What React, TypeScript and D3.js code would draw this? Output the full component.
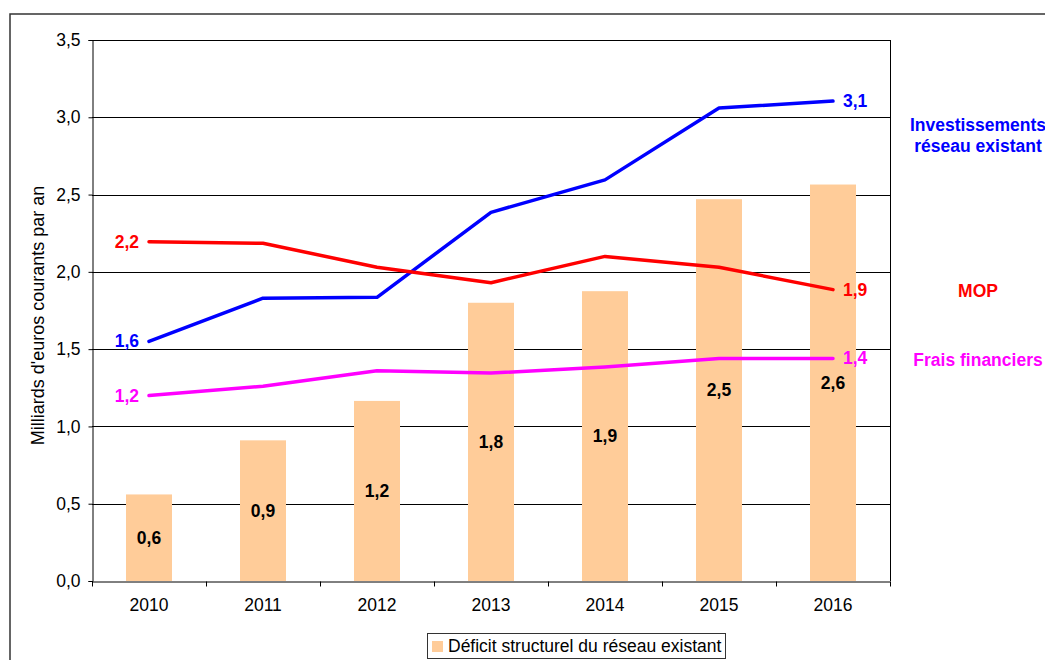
import React, { useEffect, useRef } from 'react';
import * as d3 from 'd3';

const years = ['2010', '2011', '2012', '2013', '2014', '2015', '2016'];
const deficit = [0.56, 0.91, 1.165, 1.8, 1.875, 2.47, 2.565];
const deficitLabels = ['0,6', '0,9', '1,2', '1,8', '1,9', '2,5', '2,6'];
const investissements = [1.55, 1.83, 1.835, 2.385, 2.595, 3.06, 3.105];
const mop = [2.195, 2.185, 2.03, 1.93, 2.1, 2.03, 1.885];
const frais = [1.2, 1.26, 1.36, 1.345, 1.385, 1.44, 1.44];
const yTicks = [0, 0.5, 1, 1.5, 2, 2.5, 3, 3.5];

const lines = [
  { values: investissements, color: '#0000ff', first: '1,6', last: '3,1', name: ['Investissements', 'réseau existant'], nameY: 125 },
  { values: mop, color: '#ff0000', first: '2,2', last: '1,9', name: ['MOP'], nameY: 291 },
  { values: frais, color: '#ff00ff', first: '1,2', last: '1,4', name: ['Frais financiers'], nameY: 360 },
];

export default function App() {
  const ref = useRef<SVGSVGElement>(null);

  useEffect(() => {
    const svg = d3.select(ref.current);
    svg.selectAll('*').remove();

    const left = 92, right = 890, top = 40, bottom = 581;
    const x = d3.scaleBand().domain(years).range([left, right]);
    const y = d3.scaleLinear().domain([0, 3.5]).range([bottom, top]);
    const font = 'Liberation Sans, Arial, sans-serif';

    // outer frame
    svg.append('rect').attr('x', 10).attr('y', 14).attr('width', 1045).attr('height', 660)
      .attr('fill', 'none').attr('stroke', '#333').attr('stroke-width', 1.5);

    // grid
    svg.append('g').selectAll('line').data(yTicks.slice(1)).enter().append('line')
      .attr('x1', left).attr('x2', right)
      .attr('y1', d => Math.round(y(d)) + 0.5).attr('y2', d => Math.round(y(d)) + 0.5)
      .attr('stroke', '#000').attr('stroke-width', 1);

    // bars
    const bw = 46;
    svg.append('g').selectAll('rect').data(deficit).enter().append('rect')
      .attr('x', (d, i) => x(years[i])! + x.bandwidth() / 2 - bw / 2)
      .attr('width', bw)
      .attr('y', d => y(d))
      .attr('height', d => bottom - y(d))
      .attr('fill', '#ffcc99');

    svg.append('g').selectAll('text').data(deficit).enter().append('text')
      .attr('x', (d, i) => x(years[i])! + x.bandwidth() / 2)
      .attr('y', d => (y(d) + bottom) / 2 + 6)
      .attr('text-anchor', 'middle')
      .attr('font-family', font).attr('font-size', 17.5).attr('font-weight', 'bold')
      .text((d, i) => deficitLabels[i]);

    // axes
    const yAxis = d3.axisLeft(y).tickValues(yTicks).tickSize(4).tickPadding(8)
      .tickFormat(d => d3.format('.1f')(d as number).replace('.', ','));
    const gy = svg.append('g').attr('transform', `translate(${left + 0.5},0)`).call(yAxis);
    gy.select('.domain').attr('stroke', '#000');
    gy.selectAll('text').attr('font-family', font).attr('font-size', 17.5).attr('fill', '#000');

    const xAxis = d3.axisBottom(x).tickSize(0).tickPadding(17);
    const gx = svg.append('g').attr('transform', `translate(0,${bottom + 0.5})`).call(xAxis);
    gx.select('.domain').attr('stroke', '#000');
    gx.selectAll('text').attr('font-family', font).attr('font-size', 17.5).attr('fill', '#000');
    gx.selectAll('.tickmark').data(years.concat(['end'])).enter().append('line')
      .attr('x1', (d, i) => left + 0.5 + i * x.step()).attr('x2', (d, i) => left + 0.5 + i * x.step())
      .attr('y1', 0).attr('y2', 5).attr('stroke', '#000');

    // right border of plot
    svg.append('line').attr('x1', right + 0.5).attr('x2', right + 0.5).attr('y1', top).attr('y2', bottom)
      .attr('stroke', '#000');

    svg.append('text')
      .attr('transform', `translate(44,${(top + bottom) / 2 + 5}) rotate(-90)`)
      .attr('text-anchor', 'middle').attr('font-family', font).attr('font-size', 18)
      .text("Milliards d'euros courants par an");

    // lines
    const cx = (i: number) => x(years[i])! + x.bandwidth() / 2;
    lines.forEach(s => {
      const line = d3.line<number>().x((d, i) => cx(i)).y(d => y(d));
      svg.append('path').datum(s.values).attr('d', line)
        .attr('fill', 'none').attr('stroke', s.color).attr('stroke-width', 3.5)
        .attr('stroke-linejoin', 'round').attr('stroke-linecap', 'round');
      svg.append('text').attr('x', cx(0) - 10).attr('y', y(s.values[0]) + 6)
        .attr('text-anchor', 'end').attr('fill', s.color)
        .attr('font-family', font).attr('font-size', 17.5).attr('font-weight', 'bold').text(s.first);
      const n = s.values.length - 1;
      svg.append('text').attr('x', cx(n) + 10).attr('y', y(s.values[n]) + 6)
        .attr('text-anchor', 'start').attr('fill', s.color)
        .attr('font-family', font).attr('font-size', 17.5).attr('font-weight', 'bold').text(s.last);
      s.name.forEach((t, k) => {
        svg.append('text').attr('x', 978).attr('y', s.nameY + 6 + k * 21)
          .attr('text-anchor', 'middle').attr('fill', s.color)
          .attr('font-family', font).attr('font-size', 17.5).attr('font-weight', 'bold').text(t);
      });
    });

    // legend
    const lg = svg.append('g');
    lg.append('rect').attr('x', 427.5).attr('y', 633.5).attr('width', 298).attr('height', 25)
      .attr('fill', '#fff').attr('stroke', '#333');
    lg.append('rect').attr('x', 432).attr('y', 641).attr('width', 11).attr('height', 11).attr('fill', '#ffcc99');
    lg.append('text').attr('x', 448).attr('y', 652).attr('font-family', font).attr('font-size', 17.5)
      .text('Déficit structurel du réseau existant');
  }, []);

  return (
    <svg ref={ref} width={1045} height={660}
      style={{ position: 'absolute', left: 0, top: 0, background: '#fff' }} />
  );
}
